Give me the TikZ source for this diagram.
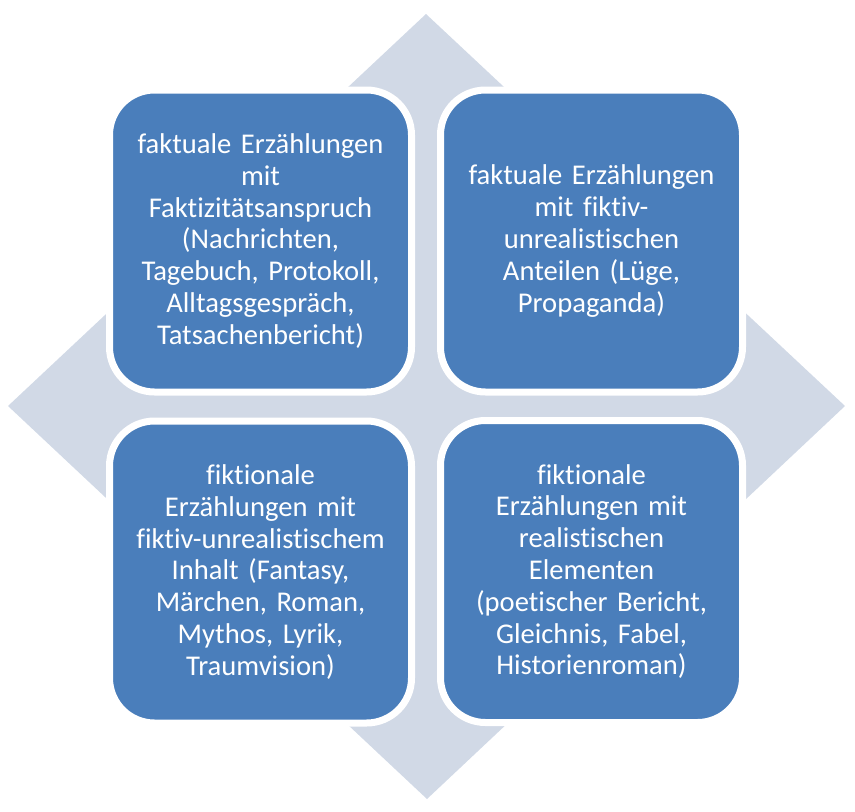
\documentclass[tikz,border=0pt]{standalone}
\usepackage{fontspec}
\setmainfont{Carlito}[Ligatures=NoCommon]
\definecolor{boxblue}{RGB}{74,126,187}
\definecolor{diam}{RGB}{209,217,230}
\begin{document}
\begin{tikzpicture}[x=1pt,y=-1pt,
  quad/.style={draw=white, line width=7pt, fill=boxblue, rounded corners=45pt,
    minimum width=302pt, minimum height=302pt, inner sep=0pt,
    text width=296pt, align=center, text=white,
    font=\fontsize{28.6}{31.8}\selectfont}]
\useasboundingbox (0,0) rectangle (855,812);
\fill[diam] (426,14) -- (845,406) -- (427,799) -- (8,406) -- cycle;
\node[quad] (tl) at (260.5,241) {faktuale Erzählungen\\mit\\Faktizitätsanspruch\\(Nachrichten,\\Tagebuch, Protokoll,\\Alltagsgespräch,\\Tatsachenbericht)};
\node[quad] (tr) at (591.5,241) {faktuale Erzählungen\\mit fiktiv-\\unrealistischen\\Anteilen (Lüge,\\Propaganda)};
\node[quad] (bl) at (260.5,572) {fiktionale\\Erzählungen mit\\fiktiv-unrealistischem\\Inhalt (Fantasy,\\Märchen, Roman,\\Mythos, Lyrik,\\Traumvision)};
\node[quad] (br) at (591.5,571.5) {fiktionale\\Erzählungen mit\\realistischen\\Elementen\\(poetischer Bericht,\\Gleichnis, Fabel,\\Historienroman)};
\end{tikzpicture}
\end{document}
